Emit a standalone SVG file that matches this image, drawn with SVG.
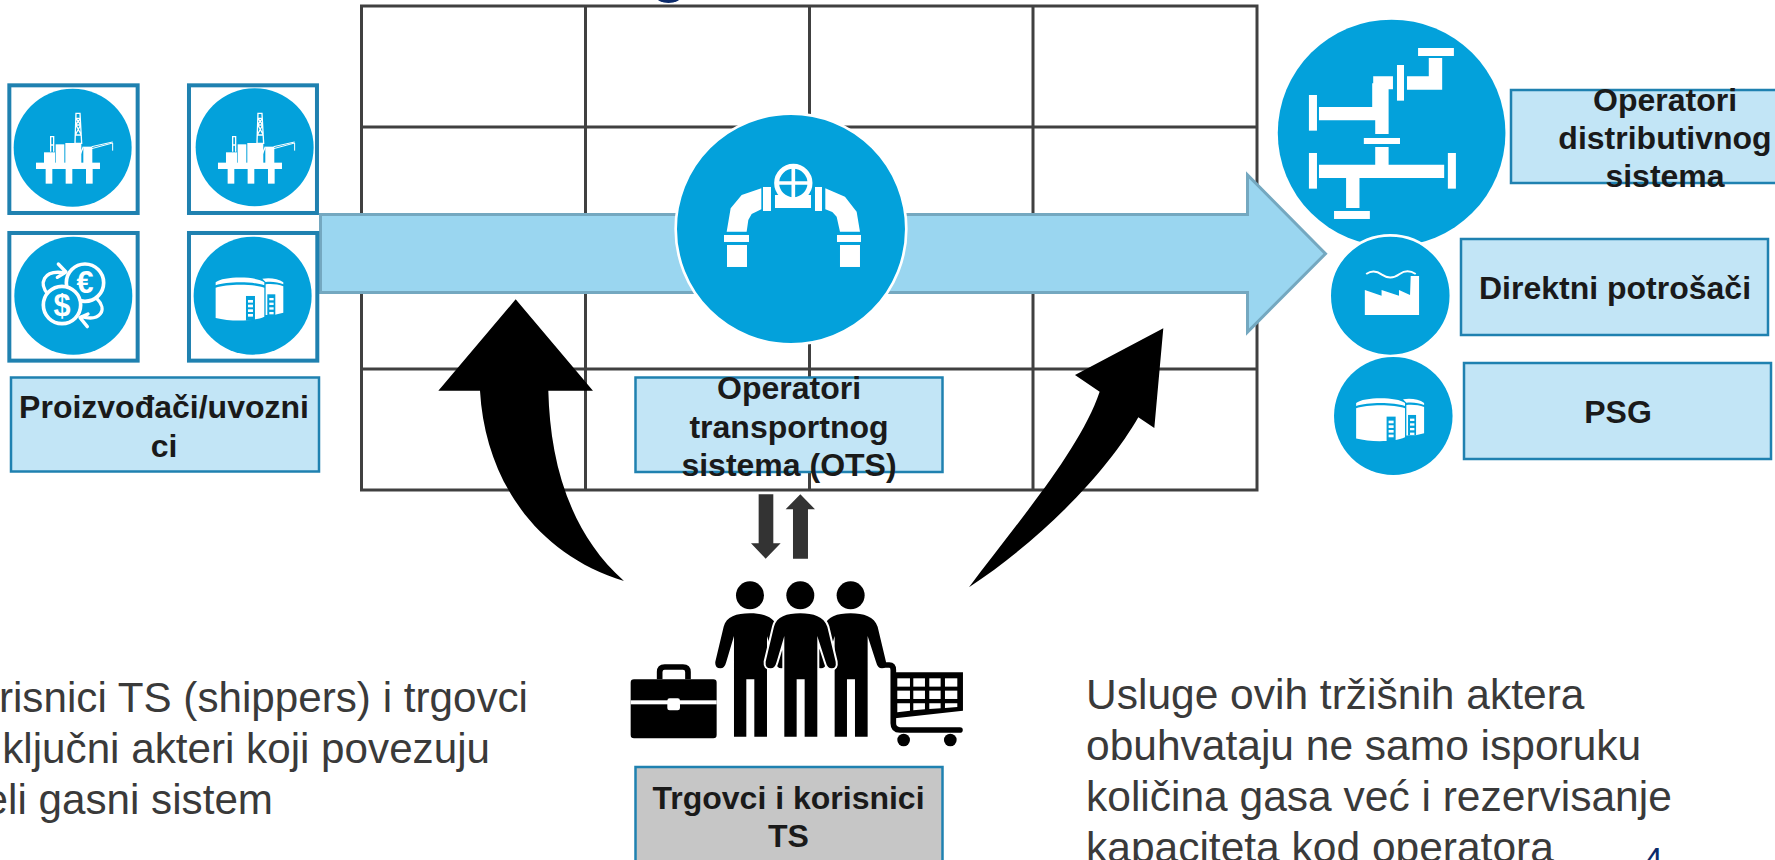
<svg xmlns="http://www.w3.org/2000/svg" xmlns:xlink="http://www.w3.org/1999/xlink" width="1775" height="860" viewBox="0 0 1775 860">
<style>
.grid{stroke:#404040;stroke-width:3;fill:none}
.tile{fill:#fff;stroke:#1F81B0;stroke-width:12}
.label{fill:#C2E5F6;stroke:#1F81B0;stroke-width:2.5}
.grey{fill:#C6C6C6;stroke:#1F81B0;stroke-width:2.5}
.disc{fill:#03A1DB}
.ring{fill:#03A1DB;stroke:#fff;stroke-width:8}
.w{fill:#fff}
.ws{fill:none;stroke:#fff}
.bk{fill:#000}
.t{font-family:"Liberation Sans",Arial,sans-serif;font-weight:700;font-size:32px;fill:#1a1a1a;text-anchor:middle;transform:translateY(1px)}
.p{font-family:"Liberation Sans",Arial,sans-serif;font-size:42.5px;fill:#3a3a3a}
.cur{font-family:"Liberation Sans",Arial,sans-serif;font-weight:700;font-size:92px;fill:#fff;text-anchor:middle}
</style>
<defs>
<g id="rig">
<rect class="w" x="108" y="338" width="192" height="19"/>
<rect class="w" x="137" y="355" width="20" height="46"/>
<rect class="w" x="197" y="355" width="20" height="46"/>
<rect class="w" x="258" y="355" width="20" height="46"/>
<rect class="w" x="132" y="307" width="33" height="33"/>
<rect class="w" x="167" y="283" width="26" height="57"/>
<rect class="w" x="196" y="279" width="48" height="61"/>
<rect class="w" x="250" y="290" width="27" height="50"/>
<path class="ws" stroke-width="4" d="M225,280 L228,190 H240 L245,280 Z M226,255 H244 M227,225 H242 M228,205 H241 M226,255 L242,225 M244,255 L228,225 M227,225 L241,205 M242,225 L228,205 M152,305 V260 H161 V305 M152,285 H161 M240,315 L250,290"/>
<path class="ws" stroke-width="3" d="M275,296 L338,279 V302 M275,290 L338,276"/>
</g>
<g id="tank">
<path class="w" d="M647,697 C670,678 770,678 793,697 V706 C760,694 680,694 647,706 Z"/>
<path class="w" d="M647,713 C680,701 760,701 793,713 V800 C760,815 690,815 647,804 Z"/>
<path class="w" d="M787,686 C810,682 835,686 850,697 V703 C835,696 815,694 797,696 Z M797,703 C815,701 835,703 850,709 V788 L822,795 H797 Z"/>
<rect class="disc" x="738" y="738" width="27" height="74"/>
<rect class="w" x="744" y="750" width="15" height="8"/>
<rect class="w" x="744" y="764" width="15" height="8"/>
<rect class="w" x="744" y="778" width="15" height="8"/>
<rect class="w" x="744" y="792" width="15" height="8"/>
<rect class="disc" x="802" y="733" width="24" height="62"/>
<rect class="w" x="808" y="744" width="13" height="7"/>
<rect class="w" x="808" y="758" width="13" height="7"/>
<rect class="w" x="808" y="772" width="13" height="7"/>
<rect class="w" x="808" y="786" width="13" height="7"/>
</g>
<path id="person" d="M601,400 C560,400 530,410 522,440 L497,545 Q495,565 512,565 Q525,565 530,545 L553,468 V770 H590 V598 H614 V770 H652 V468 L677,545 Q682,565 695,565 Q710,565 707,545 L682,440 C672,410 640,400 601,400 Z"/>
</defs>

<ellipse id="title-fragment" cx="668.5" cy="-3" rx="12" ry="6" fill="#0B2A6B"/>

<g id="grid">
<rect class="grid" x="361.5" y="6" width="895.5" height="484"/>
<path class="grid" d="M361.5,127 H1257 M361.5,369 H1257 M585.5,6 V490 M809.5,6 V490 M1033,6 V490"/>
</g>

<g id="connectors">
<path id="flow-arrow" d="M320.5,214.5 H1247.5 V175 L1325.5,253.7 L1247.5,332 V292.5 H320.5 Z" fill="#9AD6F0" stroke="#74A8C0" stroke-width="3"/>
<g id="arrow-left" transform="translate(420,290) scale(.3333)">
<path class="bk" d="M287,28 L519,302 H385 C390,500 440,720 612,873 C340,790 195,560 180,302 H55 Z"/>
</g>
<g id="arrow-right" transform="translate(950,300) scale(.3333)">
<path class="bk" d="M640,85 L613,384 L565,352 C480,500 300,700 57,862 C200,670 390,450 449,275 L375,225 Z"/>
</g>
<g id="exchange-arrows" transform="translate(600,480) scale(.3333)" fill="#333">
<path d="M476,43 H520 V190 H542 L497,236 L453,190 H476 Z"/>
<path d="M579,236 H624 V88 H645 L601,43 L557,88 H579 Z"/>
</g>
</g>

<g id="producers" transform="translate(0,50) scale(.3333)">
<rect class="tile" x="28" y="106" width="385" height="383"/>
<rect class="tile" x="567" y="106" width="384" height="383"/>
<rect class="tile" x="28" y="549" width="385" height="383"/>
<rect class="tile" x="567" y="549" width="385" height="383"/>
<circle class="disc" cx="218" cy="293" r="177"/>
<circle class="disc" cx="764" cy="292" r="177"/>
<circle class="disc" cx="220" cy="737" r="177"/>
<circle class="disc" cx="758" cy="737" r="177"/>
<use href="#rig" xlink:href="#rig"/>
<use href="#rig" xlink:href="#rig" x="546"/>
<use href="#tank" xlink:href="#tank"/>
<g>
<path class="ws" stroke-width="10" stroke-linecap="round" stroke-linejoin="round" d="M145,735 C115,700 130,660 190,668 M175,642 L198,666 L172,682 M290,745 C325,780 300,815 245,800 M264,792 L240,803 L262,830"/>
<circle class="disc" cx="255" cy="698" r="56" style="stroke:#fff;stroke-width:11"/>
<circle class="disc" cx="186" cy="765" r="56" style="stroke:#fff;stroke-width:11"/>
<text class="cur" x="255" y="730">€</text>
<text class="cur" x="186" y="797">$</text>
</g>
</g>
<g id="producers-label">
<rect class="label" x="11" y="377.5" width="308" height="94"/>
<text class="t" x="164" y="417">Proizvođači/uvozni</text>
<text class="t" x="164" y="455.5">ci</text>
</g>

<g id="ots">
<g transform="translate(640,0) scale(.3333)">
<circle cx="453" cy="687" r="346" class="ring"/>
<path class="w" d="M364,565 L305,585 L272,625 L260,695 H320 L325,660 L335,642 L364,628 Z"/>
<path class="w" d="M556,565 L615,590 L650,635 L660,695 H600 L590,650 L577,636 L556,628 Z"/>
<rect class="w" x="369" y="561" width="24" height="72"/>
<rect class="w" x="525" y="561" width="21" height="72"/>
<path class="w" d="M405,585 H513 V624 H405 Z"/>
<circle cx="460" cy="549" r="50" fill="#03A1DB" stroke="#fff" stroke-width="15"/>
<path class="ws" stroke-width="11" d="M460,500 V598 M411,549 H509"/>
<rect class="w" x="252" y="705" width="75" height="21"/>
<rect class="w" x="261" y="735" width="60" height="66"/>
<rect class="w" x="591" y="705" width="72" height="21"/>
<rect class="w" x="600" y="735" width="60" height="66"/>
</g>
<rect class="label" x="635.5" y="377.5" width="307" height="94.5"/>
<text class="t" x="789" y="398">Operatori</text>
<text class="t" x="789" y="436.5">transportnog</text>
<text class="t" x="789" y="475">sistema (OTS)</text>
</g>

<g id="traders">
<g transform="translate(600,480) scale(.3333)">
<circle class="bk" cx="450" cy="346" r="42"/>
<circle class="bk" cx="601" cy="346" r="42"/>
<circle class="bk" cx="752" cy="346" r="42"/>
<use href="#person" xlink:href="#person" x="-151"/>
<use href="#person" xlink:href="#person" x="151"/>
<use href="#person" xlink:href="#person" fill="#000" stroke="#fff" stroke-width="12" style="paint-order:stroke"/>
<path d="M855,555 H868 Q880,555 880,570 V730 Q880,750 900,750 H1080" fill="none" stroke="#000" stroke-width="17" stroke-linecap="round"/>
<path class="bk" d="M885,577 H1089 V692 L885,715 Z"/>
<g class="w">
<rect x="892" y="595" width="38" height="25"/><rect x="940" y="595" width="35" height="25"/><rect x="988" y="595" width="34" height="25"/><rect x="1035" y="595" width="37" height="25"/>
<rect x="892" y="632" width="38" height="25"/><rect x="940" y="632" width="35" height="25"/><rect x="988" y="632" width="34" height="25"/><rect x="1035" y="632" width="37" height="25"/>
<path d="M892,670 H930 V692 L892,697 Z M940,670 H975 V688 L940,691 Z M988,670 H1022 V685 L988,687 Z M1035,670 H1072 V681 L1035,684 Z"/>
</g>
<circle class="bk" cx="911" cy="780" r="19"/>
<circle class="bk" cx="1051" cy="780" r="19"/>
<rect class="bk" x="92" y="598" width="258" height="177" rx="10"/>
<rect class="w" x="92" y="661" width="258" height="12"/>
<rect class="w" x="202" y="655" width="38" height="36" rx="7"/>
<path d="M179,598 V576 Q179,561 194,561 H249 Q264,561 264,576 V598" fill="none" stroke="#000" stroke-width="17"/>
</g>
<rect class="grey" x="635.5" y="767" width="307" height="100"/>
<text class="t" x="788.5" y="808">Trgovci i korisnici</text>
<text class="t" x="788.5" y="846">TS</text>
</g>

<g id="distribution">
<g transform="translate(1250,0) scale(.3348,.3333)">
<circle class="disc" cx="423" cy="399" r="340"/>
<g class="w">
<rect x="176" y="285" width="24" height="107"/>
<path d="M206,321 H365 V250 H368 V229 H427 V268 H414 V402 H374 V361 H206 Z"/>
<rect x="439" y="195" width="21" height="107"/>
<path d="M469,229 H534 V174 H574 V269 H469 Z"/>
<rect x="502" y="144" width="107" height="24"/>
<rect x="340" y="414" width="108" height="18"/>
<path d="M206,494 H374 V441 H414 V494 H580 V534 H327 V624 H287 V534 H206 Z"/>
<rect x="176" y="459" width="24" height="107"/>
<rect x="591" y="459" width="24" height="107"/>
<rect x="251" y="633" width="107" height="24"/>
</g>
</g>
<rect class="label" x="1511" y="90" width="280" height="93"/>
<text class="t" x="1665" y="109.500">Operatori</text>
<text class="t" x="1665" y="147.500">distributivnog</text>
<text class="t" x="1665" y="186">sistema</text>
</g>

<g id="direct-consumers">
<g transform="translate(1250,0) scale(.3348,.3333)">
<circle class="ring" cx="419" cy="887" r="181"/>
<path class="w" d="M343,870 L393,887 V870 L445,887 V870 L478,885 L480,828 H505 V945 H343 Z"/>
<path class="ws" stroke-width="6" d="M347,822 Q370,806 394,824 Q420,842 447,822 Q470,806 495,822"/>
</g>
<rect class="label" x="1461" y="239" width="307" height="96"/>
<text class="t" x="1615" y="298">Direktni potrošači</text>
</g>

<g id="storage">
<g transform="translate(1250,0) scale(.3348,.3333)">
<circle class="disc" cx="428" cy="1248" r="177"/>
<use href="#tank" xlink:href="#tank" x="-330" y="512"/>
</g>
<rect class="label" x="1464" y="363" width="307" height="96"/>
<text class="t" x="1618" y="422">PSG</text>
</g>

<g id="notes">
<text class="p" style="font-size:42.2px" x="528" y="712" text-anchor="end">risnici TS (shippers) i trgovci</text>
<text class="p" style="font-size:42.2px" x="490" y="763" text-anchor="end">ključni akteri koji povezuju</text>
<text class="p" style="font-size:42.2px" x="273" y="814" text-anchor="end">eli gasni sistem</text>
<text class="p" x="1086" y="708.500">Usluge ovih tržišnih aktera</text>
<text class="p" x="1086" y="759.500">obuhvataju ne samo isporuku</text>
<text class="p" x="1086" y="810.500">količina gasa već i rezervisanje</text>
<text class="p" x="1086" y="861.500">kapaciteta kod operatora</text>
<text x="1644" y="871" font-family="Liberation Sans, Arial, sans-serif" font-size="34" fill="#0B2A6B">4</text>
</g>
</svg>
